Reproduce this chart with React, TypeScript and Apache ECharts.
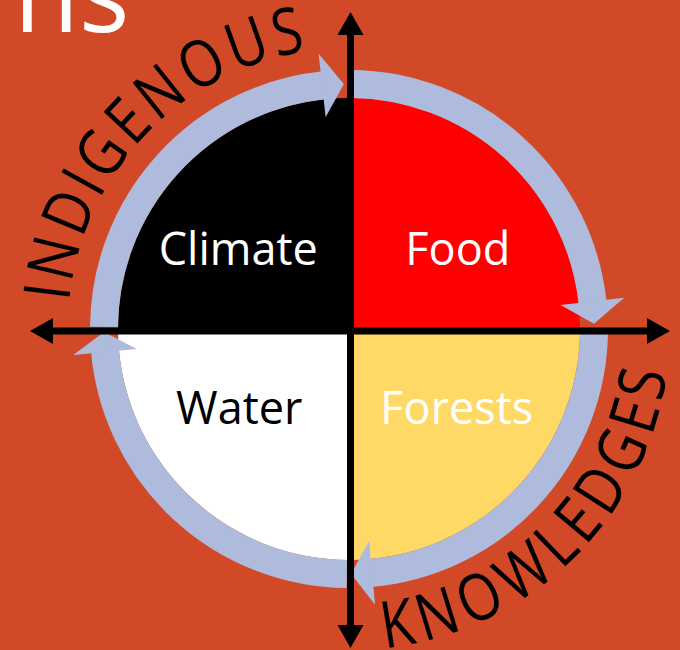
import React, { useEffect, useRef } from 'react';
import * as echarts from 'echarts';

// ---------- data ----------
const categories = ['Food', 'Forests', 'Water', 'Climate'];
const sliceValues = [1, 1, 1, 1];
const sliceColors = ['#FF0000', '#FFD966', '#FFFFFF', '#000000'];
const labelColors = ['#FFFFFF', '#FFFFFF', '#000000', '#FFFFFF'];
const arcWordTop = 'INDIGENOUS';
const arcWordBottom = 'KNOWLEDGES';
const titleFragment = 'ns';

// ---------- layout / style ----------
const W = 680;
const H = 650;
const CX = 349;
const CY = 329;
const PIE_R = 231;
const RING_R = 245;
const RING_W = 28;
const HEAD_HALF = 32;
const AXIS_X = 350.5;
const AXIS_Y = 331;
const AXIS_W = 7;
const BG = '#D14927';
const RING_COLOR = '#AEBBDC';
const FONT = '"Open Sans", "Noto Sans", sans-serif';
const LETTER_WEIGHT = 500;
const labelOffsets = [
  [25, 2],
  [24, -6],
  [-26, -6],
  [-27, 2],
];
// ring arrows: [start, head base, tip] in screen degrees (clockwise)
const ringArrows = [
  [-89.5, -6.5, -1.2],
  [0.5, 84.6, 89.5],
  [90.5, 174.6, 179.3],
  [180.5, 263.7, 268.8],
];

const rad = (d: number) => (d * Math.PI) / 180;
const polar = (r: number, a: number): [number, number] => [
  CX + r * Math.cos(rad(a)),
  CY + r * Math.sin(rad(a)),
];

function measure(chars: string[], font: string): number[] {
  const ctx = document.createElement('canvas').getContext('2d');
  if (!ctx) return chars.map(() => 1);
  ctx.font = font;
  return chars.map((ch) => ctx.measureText(ch).width);
}

function arcLetters(
  word: string,
  first: number,
  last: number,
  r: number,
  outward: boolean,
  size: number,
  sx: number
) {
  const chars = word.split('');
  const widths = measure(chars, `${LETTER_WEIGHT} ${size}px ${FONT}`);
  const centers: number[] = [];
  let acc = 0;
  widths.forEach((w) => {
    centers.push(acc + w / 2);
    acc += w;
  });
  const c0 = centers[0];
  const cn = centers[centers.length - 1];
  return chars.map((ch, i) => {
    const a = first + ((last - first) * (centers[i] - c0)) / (cn - c0);
    const [x, y] = polar(r, a);
    const rot = outward ? -(a + 90) : 90 - a;
    return {
      type: 'text',
      x,
      y,
      rotation: rad(rot),
      scaleX: sx,
      z: 30,
      silent: true,
      style: {
        text: ch,
        fontFamily: FONT,
        fontSize: size,
        fontWeight: LETTER_WEIGHT,
        fill: '#000000',
        align: 'center',
        verticalAlign: 'middle',
      },
    };
  });
}

function ringElements() {
  const els: any[] = [];
  ringArrows.forEach(([s, b, t]) => {
    els.push({
      type: 'arc',
      z: 10,
      silent: true,
      shape: {
        cx: CX,
        cy: CY,
        r: RING_R,
        startAngle: rad(s),
        endAngle: rad(b + 0.4),
        clockwise: true,
      },
      style: { stroke: RING_COLOR, lineWidth: RING_W, fill: 'none', lineCap: 'butt' },
    });
    els.push({
      type: 'polygon',
      z: 10,
      silent: true,
      shape: {
        points: [polar(RING_R - HEAD_HALF, b), polar(RING_R + HEAD_HALF, b), polar(RING_R, t)],
      },
      style: { fill: RING_COLOR },
    });
  });
  return els;
}

function axisElements() {
  const els: any[] = [];
  const headL = 23;
  const headH = 13;
  const top = 12;
  const bottom = 648;
  const left = 30;
  const right = 670;
  els.push({
    type: 'line',
    z: 20,
    silent: true,
    shape: { x1: AXIS_X, y1: top + headL - 1, x2: AXIS_X, y2: bottom - headL + 1 },
    style: { stroke: '#000', lineWidth: AXIS_W },
  });
  els.push({
    type: 'line',
    z: 20,
    silent: true,
    shape: { x1: left + headL - 1, y1: AXIS_Y, x2: right - headL + 1, y2: AXIS_Y },
    style: { stroke: '#000', lineWidth: AXIS_W },
  });
  const heads = [
    [[AXIS_X, top], [AXIS_X - headH, top + headL], [AXIS_X + headH, top + headL]],
    [[AXIS_X, bottom], [AXIS_X - headH, bottom - headL], [AXIS_X + headH, bottom - headL]],
    [[left, AXIS_Y], [left + headL, AXIS_Y - headH], [left + headL, AXIS_Y + headH]],
    [[right, AXIS_Y], [right - headL, AXIS_Y - headH], [right - headL, AXIS_Y + headH]],
  ];
  heads.forEach((pts) =>
    els.push({ type: 'polygon', z: 20, silent: true, shape: { points: pts }, style: { fill: '#000' } })
  );
  return els;
}

export default function App() {
  const ref = useRef<HTMLDivElement>(null);

  useEffect(() => {
    document.body.style.margin = '0';
    if (!ref.current) return;
    const chart = echarts.init(ref.current, undefined, { renderer: 'svg' });

    const graphics = [
      {
        type: 'text',
        x: 14,
        y: -9,
        z: 30,
        silent: true,
        style: {
          text: titleFragment,
          fontFamily: FONT,
          fontSize: 106,
          fill: '#FFFFFF',
          align: 'left',
          verticalAlign: 'middle',
        },
      },
      ...ringElements(),
      ...axisElements(),
      ...arcLetters(arcWordTop, -172.9, -101.8, 306, true, 65, 0.84),
      ...arcLetters(arcWordBottom, 80.7, 10.5, 296, false, 65, 0.84),
    ];

    chart.setOption({
      animation: false,
      backgroundColor: BG,
      series: [
        {
          type: 'pie',
          center: [CX, CY],
          radius: [0, PIE_R],
          startAngle: 90,
          clockwise: true,
          silent: true,
          z: 2,
          emphasis: { disabled: true },
          labelLine: { show: false },
          label: {
            show: true,
            position: 'inside',
            formatter: '{b}',
            fontFamily: FONT,
            fontSize: 45,
          },
          data: categories.map((name, i) => ({
            name,
            value: sliceValues[i],
            itemStyle: { color: sliceColors[i] },
            label: { color: labelColors[i], offset: labelOffsets[i] },
          })),
        },
      ],
      graphic: { elements: graphics },
    });

    return () => chart.dispose();
  }, []);

  return (
    <div
      ref={ref}
      style={{ position: 'fixed', left: 0, top: 0, width: W, height: H }}
    />
  );
}
